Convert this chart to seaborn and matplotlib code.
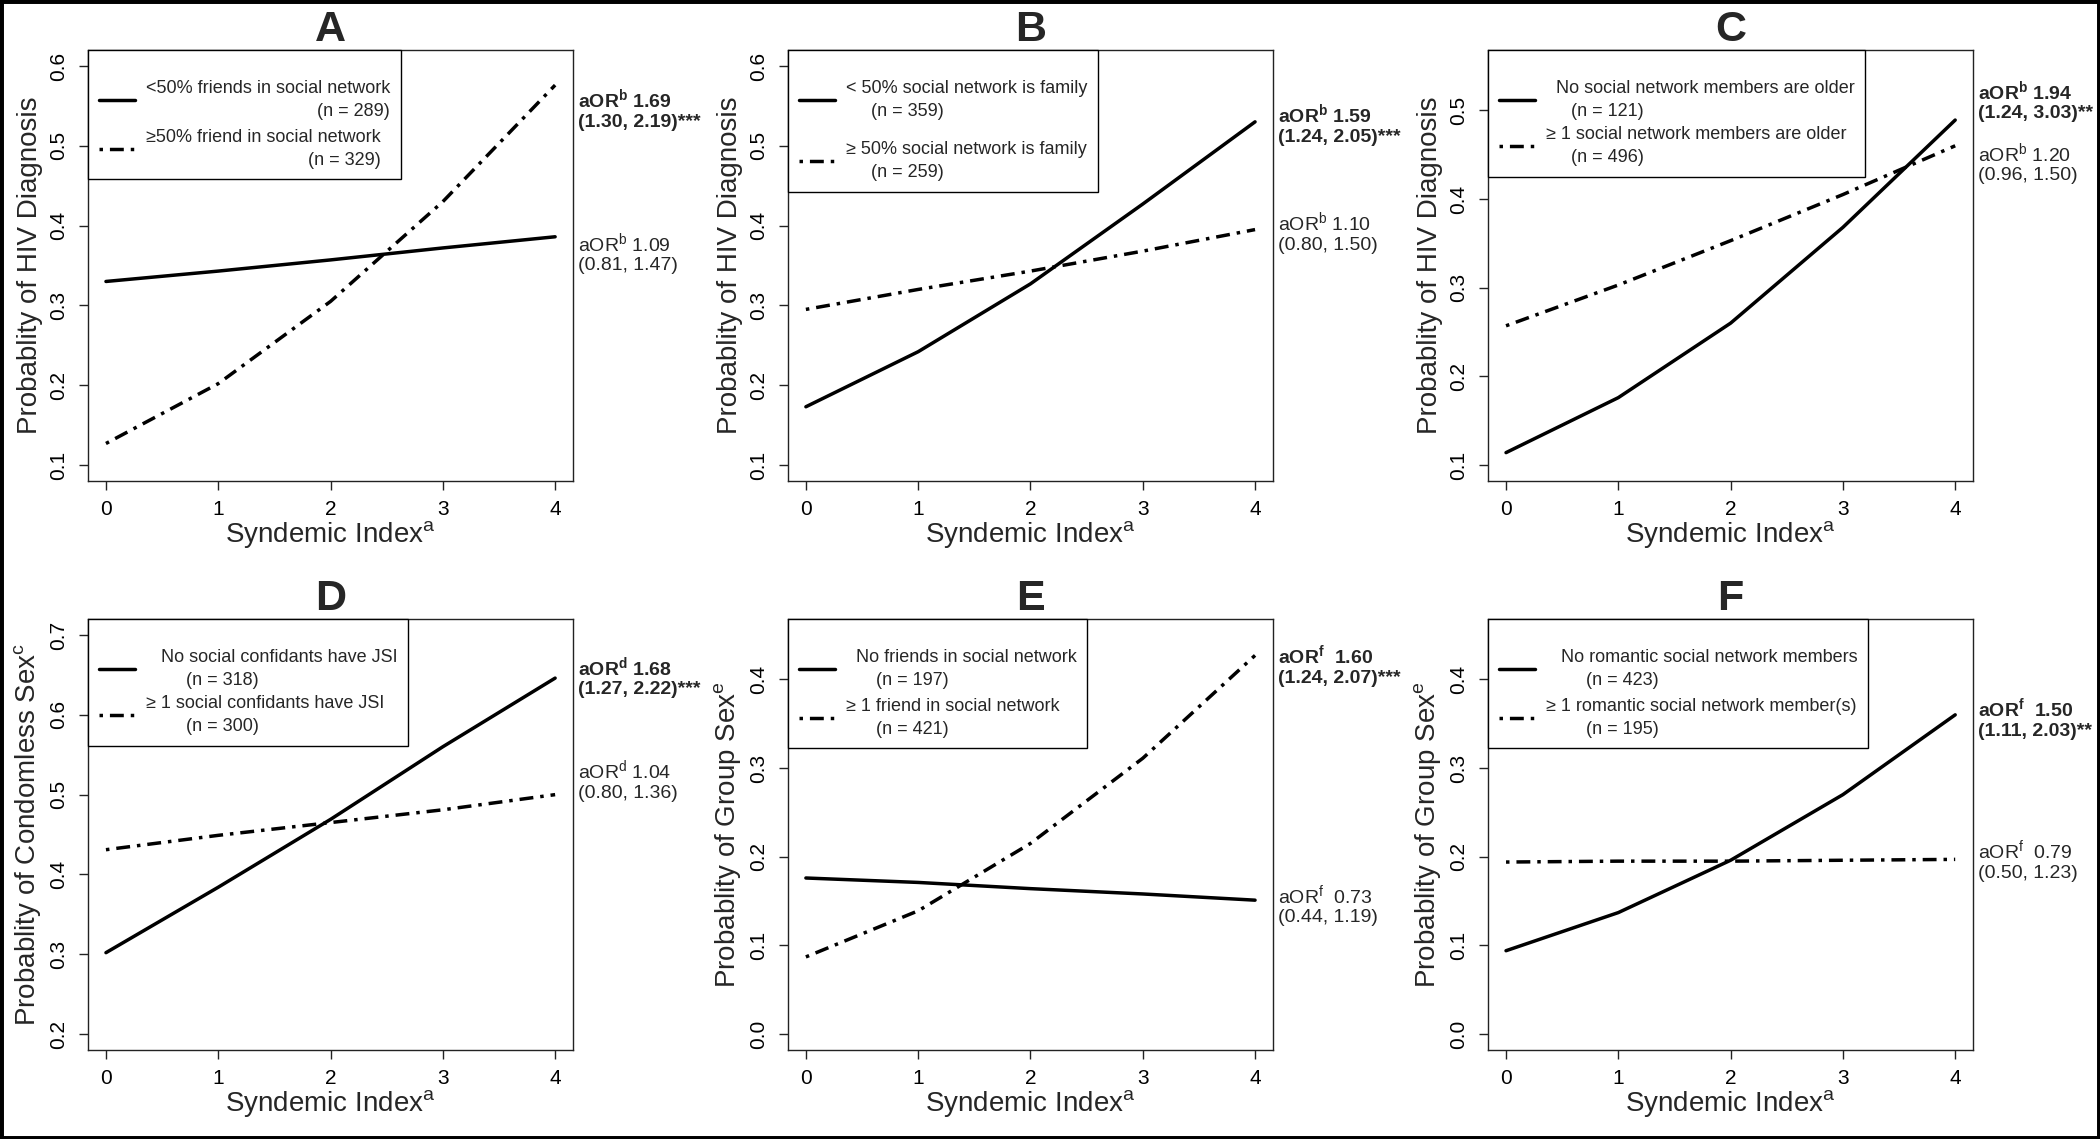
import matplotlib
matplotlib.use("Agg")
import matplotlib.pyplot as plt
import matplotlib.transforms as mtransforms
import matplotlib.patches as mpatches
import pandas as pd
import seaborn as sns

# ---- data ----
syndemic_index = [0, 1, 2, 3, 4]

a_lt50_friends = [0.330, 0.343, 0.357, 0.372, 0.386]
a_ge50_friends = [0.127, 0.202, 0.305, 0.430, 0.576]
b_lt50_family = [0.173, 0.242, 0.327, 0.427, 0.530]
b_ge50_family = [0.295, 0.320, 0.343, 0.368, 0.395]
c_none_older = [0.114, 0.176, 0.260, 0.368, 0.489]
c_ge1_older = [0.257, 0.303, 0.353, 0.405, 0.460]
d_no_jsi = [0.302, 0.384, 0.469, 0.560, 0.646]
d_ge1_jsi = [0.431, 0.449, 0.465, 0.481, 0.500]
e_no_friends = [0.176, 0.171, 0.164, 0.158, 0.151]
e_ge1_friend = [0.087, 0.139, 0.215, 0.311, 0.427]
f_no_romantic = [0.094, 0.137, 0.196, 0.270, 0.360]
f_ge1_romantic = [0.194, 0.195, 0.195, 0.196, 0.197]

panel_letters = ["A", "B", "C", "D", "E", "F"]
series = [
    (a_lt50_friends, a_ge50_friends),
    (b_lt50_family, b_ge50_family),
    (c_none_older, c_ge1_older),
    (d_no_jsi, d_ge1_jsi),
    (e_no_friends, e_ge1_friend),
    (f_no_romantic, f_ge1_romantic),
]
legend_labels = [
    ("<50% friends in social network\n(n = 289)",
     "\u226550% friend in social network\n(n = 329)"),
    ("< 50% social network is family\n     (n = 359)",
     "\u2265 50% social network is family\n     (n = 259)"),
    ("  No social network members are older\n     (n = 121)",
     "\u2265 1 social network members are older\n     (n = 496)"),
    ("   No social confidants have JSI\n        (n = 318)",
     "\u2265 1 social confidants have JSI\n        (n = 300)"),
    ("  No friends in social network\n      (n = 197)",
     "\u2265 1 friend in social network\n      (n = 421)"),
    ("   No romantic social network members\n        (n = 423)",
     "\u2265 1 romantic social network member(s)\n        (n = 195)"),
]
ylabels = [
    "Probablity of HIV Diagnosis",
    "Probablity of HIV Diagnosis",
    "Probablity of HIV Diagnosis",
    "Probablity of Condomless Sex$^{c}$",
    "Probablity of Group Sex$^{e}$",
    "Probablity of Group Sex$^{e}$",
]
y_ranges = [(0.1, 0.6), (0.1, 0.6), (0.1, 0.55), (0.2, 0.7), (0.0, 0.45), (0.0, 0.45)]
y_ticks = [
    [0.1, 0.2, 0.3, 0.4, 0.5, 0.6],
    [0.1, 0.2, 0.3, 0.4, 0.5, 0.6],
    [0.1, 0.2, 0.3, 0.4, 0.5],
    [0.2, 0.3, 0.4, 0.5, 0.6, 0.7],
    [0.0, 0.1, 0.2, 0.3, 0.4],
    [0.0, 0.1, 0.2, 0.3, 0.4],
]
aor_sig = [
    "aOR$^{\\mathbf{b}}$ 1.69\n(1.30, 2.19)***",
    "aOR$^{\\mathbf{b}}$ 1.59\n(1.24, 2.05)***",
    "aOR$^{\\mathbf{b}}$ 1.94\n(1.24, 3.03)**",
    "aOR$^{\\mathbf{d}}$ 1.68\n(1.27, 2.22)***",
    "aOR$^{\\mathbf{f}}$  1.60\n(1.24, 2.07)***",
    "aOR$^{\\mathbf{f}}$  1.50\n(1.11, 2.03)**",
]
aor_ns = [
    "aOR$^{b}$ 1.09\n(0.81, 1.47)",
    "aOR$^{b}$ 1.10\n(0.80, 1.50)",
    "aOR$^{b}$ 1.20\n(0.96, 1.50)",
    "aOR$^{d}$ 1.04\n(0.80, 1.36)",
    "aOR$^{f}$  0.73\n(0.44, 1.19)",
    "aOR$^{f}$  0.79\n(0.50, 1.23)",
]
# vertical placement of the annotation blocks (data units)
aor_sig_y = [0.546, 0.527, 0.511, 0.648, 0.416, 0.356]
aor_ns_y = [0.366, 0.392, 0.441, 0.518, 0.146, 0.196]
# gap between the two legend entries, per panel
legend_gap = [0.5, 1.17, 0.35, 0.35, 0.5, 0.5]

sns.set_style("ticks")
plt.rcParams.update({
    "font.family": ["Liberation Sans", "DejaVu Sans"],
    "mathtext.fontset": "custom",
    "mathtext.rm": "Liberation Sans",
    "mathtext.bf": "Liberation Sans:bold",
    "mathtext.it": "Liberation Sans:italic",
    "mathtext.default": "rm",
    "axes.edgecolor": "#222222",
    "axes.linewidth": 1.0,
    "lines.dash_capstyle": "butt",
})

DOTDASH = (1, 2, 4, 2)

fig = plt.figure(figsize=(21, 11.39), dpi=100)
lefts = [0.0419, 0.3752, 0.7086]
bottoms = [0.5777, 0.0781]

for i, letter in enumerate(panel_letters):
    ax = fig.add_axes([lefts[i % 3], bottoms[i // 3], 0.2310, 0.3784])
    lab1, lab2 = legend_labels[i]
    s1, s2 = series[i]
    df = pd.DataFrame({
        "syndemic": syndemic_index * 2,
        "prob": list(s1) + list(s2),
        "group": [lab1] * len(s1) + [lab2] * len(s2),
    })
    sns.lineplot(data=df, x="syndemic", y="prob", style="group",
                 style_order=[lab1, lab2], dashes={lab1: "", lab2: DOTDASH},
                 color="black", linewidth=2.5, legend=False, ax=ax)

    lo, hi = y_ranges[i]
    ext = 0.04 * (hi - lo)
    ax.set_ylim(lo - ext, hi + ext)
    ax.set_xlim(-0.16, 4.16)
    ax.set_xticks(syndemic_index)
    ax.set_yticks(y_ticks[i])
    ax.set_yticklabels([f"{t:.1f}" for t in y_ticks[i]], rotation=90, va="center")
    ax.tick_params(axis="both", labelsize=15, length=6.5, width=1,
                   color="#222222", labelcolor="black")
    ax.tick_params(axis="y", pad=8)
    ax.tick_params(axis="x", pad=7)
    for sp in ax.spines.values():
        sp.set_visible(True)

    ax.set_xlabel("Syndemic Index$^{a}$", fontsize=20, labelpad=0)
    ax.set_ylabel(ylabels[i], fontsize=20, labelpad=4)
    ax.set_title(letter, fontsize=31, fontweight="bold", pad=3)

    leg = ax.legend(ax.get_lines()[:2], [lab1, lab2], loc="upper left",
                    borderaxespad=0, fancybox=False, edgecolor="black",
                    framealpha=1, fontsize=13, handlelength=2.0,
                    handletextpad=0.6, labelspacing=legend_gap[i], borderpad=0.6,
                    title=" ", title_fontsize=8)
    leg._legend_box.sep = 6.5  # keep the top margin the same in every panel
    leg.get_frame().set_linewidth(1.0)
    for t in leg.get_texts():
        t.set_multialignment("right" if i == 0 else "left")
        t.set_linespacing(1.45)

    trans = mtransforms.blended_transform_factory(ax.transAxes, ax.transData)
    ax.text(1.01, aor_sig_y[i], aor_sig[i], transform=trans, ha="left",
            va="center", fontsize=14, fontweight="bold", clip_on=False)
    ax.text(1.01, aor_ns_y[i], aor_ns[i], transform=trans, ha="left",
            va="center", fontsize=14, clip_on=False)

fig.patches.append(mpatches.Rectangle((0, 0), 1, 1, transform=fig.transFigure,
                                      fill=False, edgecolor="black", linewidth=5))

fig.savefig("out.png", dpi=100)
